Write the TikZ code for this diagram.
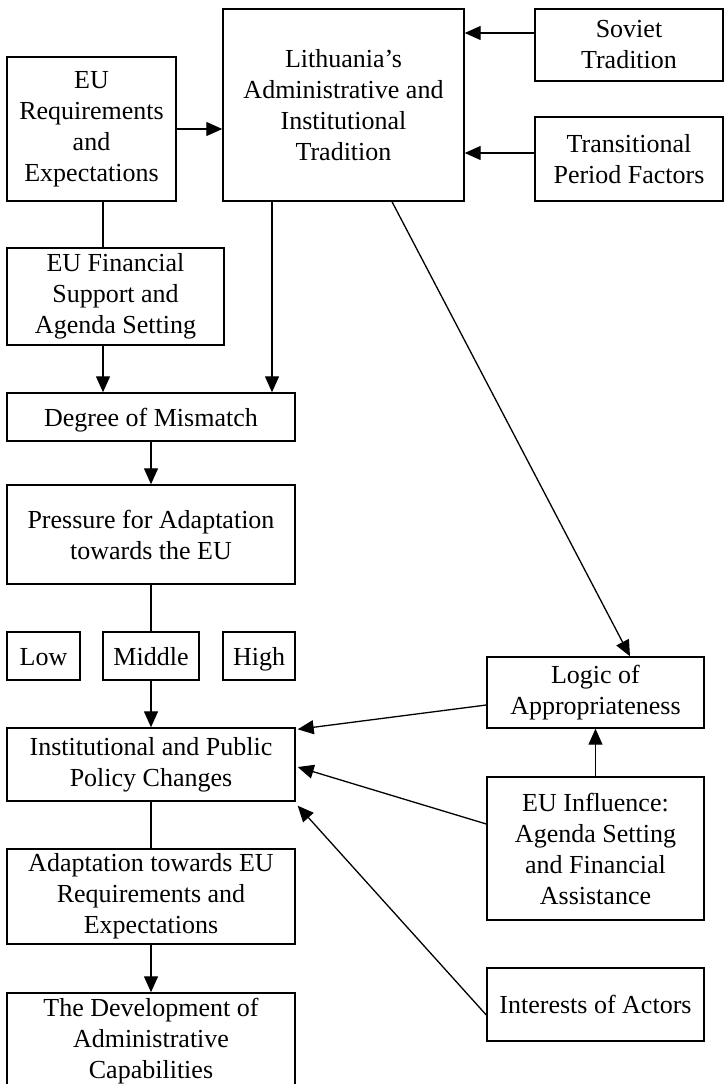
\documentclass[tikz,border=0pt]{standalone}
\usepackage{fontspec}
\setmainfont{Liberation Serif}
\usetikzlibrary{arrows.meta}

\begin{document}
\begin{tikzpicture} [x=1pt, y=-1pt]
    \tikzstyle{every node}=[align = center, font=\fontsize{26}{31}\selectfont]
    \tikzstyle{box} = [draw, line width=1.4pt, inner sep=0pt]
    \tikzstyle{level} = [box, minimum height=48pt, text height=21pt, text depth=3pt]
    \tikzstyle{link} = [line width=1.3pt]
    \tikzstyle{arr} = [link, -{Triangle[length=16pt, width=14pt]}]
    \useasboundingbox (0,0) rectangle (724,1084);

    % left column
    \node[box, minimum width=169pt, minimum height=144pt] (req) at (91.5,129) {EU\\Requirements\\and\\Expectations};
    \node[box, minimum width=217pt, minimum height=97pt] (fin) at (115.5,296.5) {EU Financial\\Support and\\Agenda Setting};
    \node[level, minimum width=288pt] (mismatch) at (151,417) {Degree of Mismatch};
    \node[box, minimum width=288pt, minimum height=99pt] (pressure) at (151,534.5) {Pressure for Adaptation\\towards the EU};
    \node[level, minimum width=73pt] (low) at (43.5,656) {Low};
    \node[level, minimum width=96pt] (middle) at (151,656) {Middle};
    \node[level, minimum width=72pt] (high) at (259,656) {High};
    \node[box, minimum width=288pt, minimum height=73pt] (inst) at (151,764.5) {Institutional and Public\\Policy Changes};
    \node[box, minimum width=288pt, minimum height=95pt] (adapt) at (151,896.5) {Adaptation towards EU\\Requirements and\\Expectations};
    \node[box, minimum width=288pt, minimum height=96pt] (devel) at (151,1041) {The Development of\\Administrative\\Capabilities};

    % top and right
    \node[box, minimum width=241pt, minimum height=192pt] (lith) at (343.5,105) {Lithuania's\\Administrative and\\Institutional\\Tradition};
    \node[box, minimum width=188pt, minimum height=72pt] (soviet) at (629,45) {Soviet\\Tradition};
    \node[box, minimum width=188pt, minimum height=84pt] (trans) at (629,159) {Transitional\\Period Factors};
    \node[box, minimum width=217pt, minimum height=71pt] (logic) at (595.5,692.5) {Logic of\\Appropriateness};
    \node[box, minimum width=217pt, minimum height=143pt] (infl) at (595.5,848.5) {EU Influence:\\Agenda Setting\\and Financial\\Assistance};
    \node[level, minimum width=217pt, minimum height=73pt] (actors) at (595.5,1004.5) {Interests of Actors};

    \coordinate (leftcol) at (103,0);
    \coordinate (midcol) at (272,0);

    \draw[arr] (req.east) -- (req.east -| lith.west);
    \draw[arr] ([yshift=12pt]soviet.west) -- ([yshift=12pt]soviet.west -| lith.east);
    \draw[arr] ([yshift=6pt]trans.west) -- ([yshift=6pt]trans.west -| lith.east);
    \draw[link] (req.south -| leftcol) -- (fin.north -| leftcol);
    \draw[arr] (fin.south -| leftcol) -- (mismatch.north -| leftcol);
    \draw[arr] (lith.south -| midcol) -- (mismatch.north -| midcol);
    \draw[arr] (mismatch.south) -- (pressure.north);
    \draw[link] (pressure.south) -- (middle.north);
    \draw[arr] (middle.south) -- (inst.north);
    \draw[link] (inst.south) -- (adapt.north);
    \draw[arr] (adapt.south) -- (devel.north);
    \draw[arr] ([xshift=48.5pt]lith.south) -- ([xshift=34.5pt]logic.north);
    \draw[arr] (infl.north) -- (logic.south);
    \draw[arr] ([yshift=-12.5pt]logic.west) -- ([shift={(2pt,-2pt)}]inst.north east);
    \draw[arr] ([yshift=24.5pt]infl.west) -- ([shift={(2pt,-2.5pt)}]inst.east);
    \draw[arr] ([yshift=-10.5pt]actors.west) -- ([shift={(2pt,-4pt)}]inst.south east);
\end{tikzpicture}
\end{document}
